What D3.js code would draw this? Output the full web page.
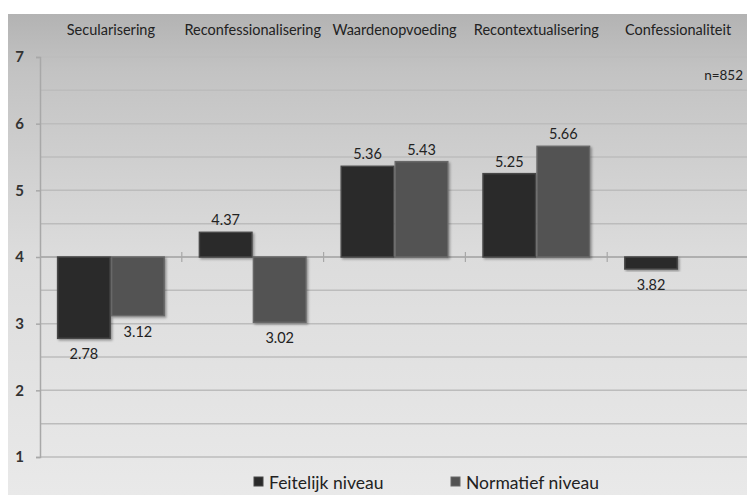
<!DOCTYPE html>
<html>
<head>
<meta charset="utf-8">
<script src="https://cdn.jsdelivr.net/npm/d3@7"></script>
<style>
  html, body { margin: 0; padding: 0; background: #fff; }
  svg { display: block; }
  text { font-family: Lato, "Open Sans", sans-serif; }
</style>
</head>
<body>
<svg id="chart" width="747" height="495"></svg>
<script>
// Dimensions scored on a 1–7 scale, bars drawn from the neutral midpoint 4
const categories = ["Secularisering", "Reconfessionalisering", "Waardenopvoeding", "Recontextualisering", "Confessionaliteit"];
const seriesNames = ["Feitelijk niveau", "Normatief niveau"];
const feitelijk = [2.78, 4.37, 5.36, 5.25, 3.82];
const normatief = [3.12, 3.02, 5.43, 5.66, null];
const yTicks = [1, 2, 3, 4, 5, 6, 7];
const baseline = 4;
const sampleNote = "n=852";

const seriesValues = [feitelijk, normatief];
const seriesFill = ["#2a2a2a", "#535353"];
const seriesEdge = ["#474747", "#686868"];

const svg = d3.select("#chart");
const W = 747, H = 495;
const plotLeft = 40, plotRight = 749, plotTop = 57, plotBottom = 457;

const defs = svg.append("defs");
const bg = defs.append("linearGradient").attr("id", "bg")
  .attr("x1", 0).attr("y1", 0).attr("x2", 0).attr("y2", 1);
bg.append("stop").attr("offset", "0%").attr("stop-color", "#b3b3b3");
bg.append("stop").attr("offset", "12%").attr("stop-color", "#c3c3c3");
bg.append("stop").attr("offset", "50%").attr("stop-color", "#dcdcdc");
bg.append("stop").attr("offset", "100%").attr("stop-color", "#e9e9e9");

const shadow = defs.append("filter").attr("id", "shadow")
  .attr("x", "-10%").attr("y", "-10%").attr("width", "130%").attr("height", "130%");
shadow.append("feDropShadow").attr("dx", 1.5).attr("dy", 1.5)
  .attr("stdDeviation", 1.2).attr("flood-color", "#000").attr("flood-opacity", 0.35);

// chart background panel
svg.append("rect").attr("x", 8).attr("y", 14).attr("width", W - 8).attr("height", H - 14)
  .attr("fill", "url(#bg)");

const y = d3.scaleLinear().domain([1, 7]).range([plotBottom, plotTop]);
const x0 = d3.scaleBand().domain(categories).range([plotLeft, plotRight]).padding(0);
const pad = x0.bandwidth() * 0.119;
const x1 = d3.scaleBand().domain(seriesNames).range([pad, x0.bandwidth() - pad]).padding(0);

// half-unit gridlines
const gridVals = d3.range(1, 7.01, 0.5);
svg.append("g").selectAll("line").data(gridVals).join("line")
  .attr("x1", plotLeft).attr("x2", W)
  .attr("y1", d => y(d)).attr("y2", d => y(d))
  .attr("stroke", "#bcbcbc").attr("stroke-width", 1.5);

// value axis
const yAxis = d3.axisLeft(y).tickValues(yTicks).tickSize(4).tickPadding(12).tickFormat(d3.format("d"));
const gy = svg.append("g").attr("transform", `translate(${plotLeft},0)`).call(yAxis);
gy.select(".domain").attr("stroke", "#a8a8a8").attr("stroke-width", 1.5);
gy.selectAll(".tick line").attr("stroke", "#a8a8a8").attr("stroke-width", 1.5);
gy.selectAll(".tick text").attr("fill", "#333").attr("font-size", 15).attr("font-weight", 700)
  .attr("font-family", "Lato, sans-serif");

// category axis along the baseline
svg.append("line").attr("x1", plotLeft).attr("x2", W)
  .attr("y1", y(baseline)).attr("y2", y(baseline))
  .attr("stroke", "#a8a8a8").attr("stroke-width", 1.5);
svg.append("g").selectAll("line").data(categories.slice(1)).join("line")
  .attr("x1", d => x0(d)).attr("x2", d => x0(d))
  .attr("y1", y(baseline) - 5).attr("y2", y(baseline) + 5)
  .attr("stroke", "#a8a8a8").attr("stroke-width", 1.2);

// category names across the top
svg.append("g").selectAll("text").data(categories).join("text")
  .attr("x", d => x0(d) + x0.bandwidth() / 2)
  .attr("y", 35)
  .attr("text-anchor", "middle")
  .attr("font-size", 14.5)
  .attr("fill", "#222")
  .text(d => d);

// bars
const bars = [];
categories.forEach((c, i) => {
  seriesNames.forEach((s, j) => {
    const v = seriesValues[j][i];
    if (v != null) bars.push({ c, s, j, v });
  });
});

const gb = svg.append("g");
gb.selectAll("rect").data(bars).join("rect")
  .attr("x", d => x0(d.c) + x1(d.s) + 0.75)
  .attr("width", x1.bandwidth() - 1.5)
  .attr("y", d => y(Math.max(d.v, baseline)))
  .attr("height", d => Math.abs(y(d.v) - y(baseline)))
  .attr("fill", d => seriesFill[d.j])
  .attr("stroke", d => seriesEdge[d.j])
  .attr("stroke-width", 1.5)
  .attr("filter", "url(#shadow)");

// value labels beyond the bar end
const fmt = d3.format(".2f");
gb.selectAll("text").data(bars).join("text")
  .attr("x", d => x0(d.c) + x1(d.s) + x1.bandwidth() / 2)
  .attr("y", d => d.v >= baseline ? y(d.v) - 7 : y(d.v) + 21)
  .attr("text-anchor", "middle")
  .attr("font-size", 14.5)
  .attr("fill", "#222")
  .text(d => fmt(d.v));

// sample size note
svg.append("text").attr("x", 743).attr("y", 80)
  .attr("text-anchor", "end").attr("font-size", 13.5).attr("fill", "#222")
  .text(sampleNote);

// legend
const legendX = [254, 451];
const lg = svg.append("g").selectAll("g").data(seriesNames).join("g")
  .attr("transform", (d, i) => `translate(${legendX[i]},0)`);
lg.append("rect").attr("x", 0).attr("y", 477).attr("width", 9).attr("height", 9)
  .attr("fill", (d, i) => seriesFill[i]).attr("stroke", (d, i) => seriesEdge[i]);
lg.append("text").attr("x", 15).attr("y", 489)
  .attr("font-size", 17.5).attr("fill", "#222")
  .text(d => d);
</script>
</body>
</html>
